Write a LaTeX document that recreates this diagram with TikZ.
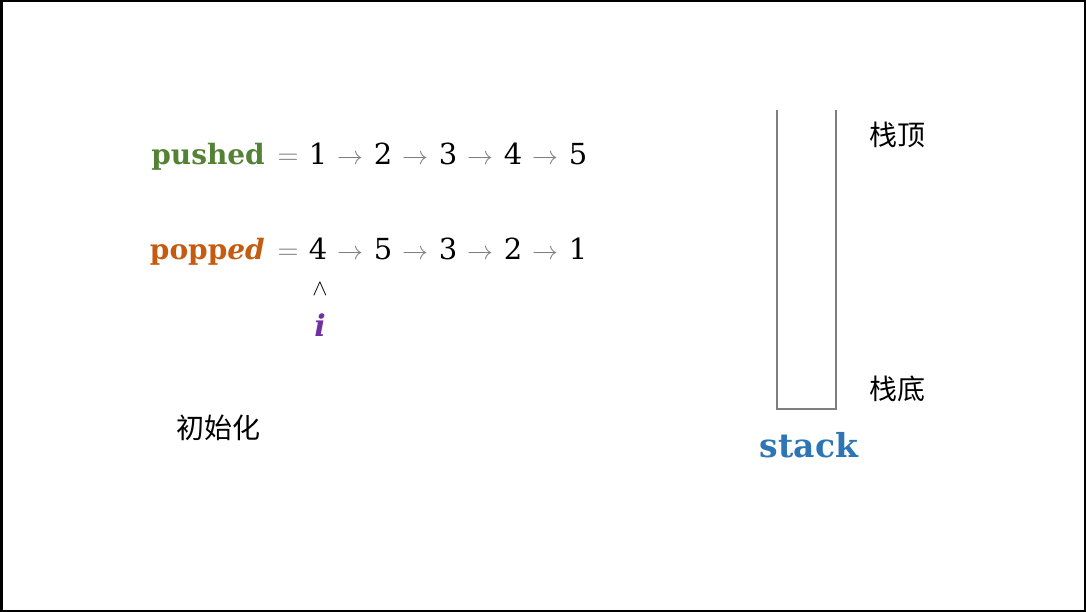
\documentclass[tikz,border=0pt]{standalone}
\usepackage{fontspec}
\setmainfont{DejaVu Serif}
\newfontfamily\cjk{Noto Sans CJK SC}
\definecolor{cgreen}{HTML}{548235}
\definecolor{corange}{HTML}{C55A11}
\definecolor{cpurple}{HTML}{7030A0}
\definecolor{cblue}{HTML}{2E75B6}
\definecolor{cgray}{HTML}{7F7F7F}
\newcommand{\myeq}{\scalebox{1.4}{$=$}}
\newcommand{\myarr}{\scalebox{1.25}{$\rightarrow$}}
\tikzset{
  lbl/.style={inner sep=0pt, font=\fontsize{28}{30}\selectfont\bfseries},
  num/.style={inner sep=0pt, font=\fontsize{29}{30}\selectfont},
  arr/.style={inner sep=0pt, text=cgray, font=\fontsize{20}{22}\selectfont},
  cjkt/.style={inner sep=0pt, font=\cjk\fontsize{28}{30}\selectfont},
  wall/.style={draw=cgray, line width=2pt},
}
\begin{document}
\begin{tikzpicture}[x=1pt,y=-1pt]
\useasboundingbox (0,0) rectangle (1086,612);
\draw[line width=2.5pt] (1.25,1.25) rectangle (1084.75,610.75);
% row 1
\node[lbl, text=cgreen, anchor=base east] (pushed) at (265,165) {pushed};
\node[arr, anchor=base] (eq1) at (288,165) {\myeq};
\foreach \v/\x [count=\k] in {1/318,2/383,3/448,4/513,5/578} {
  \node[num, anchor=base] (p\k) at (\x,165) {\v};
}
\foreach \x [count=\k] in {350,415,480,545} {
  \node[arr, anchor=base] (pa\k) at (\x,165) {\myarr};
}
% row 2
\node[lbl, text=corange, anchor=base east] (popped) at (265,259) {popp\textit{ed}};
\node[arr, anchor=base] (eq2) at (288,259) {\myeq};
\foreach \v/\x [count=\k] in {4/318,5/383,3/448,2/513,1/578} {
  \node[num, anchor=base] (q\k) at (\x,259) {\v};
}
\foreach \x [count=\k] in {350,415,480,545} {
  \node[arr, anchor=base] (qa\k) at (\x,259) {\myarr};
}
\node[inner sep=0pt, font=\fontsize{20}{22}\selectfont] (caret) at (320,289) {\scalebox{1.1}{$\wedge$}};
\node[inner sep=0pt, font=\fontsize{30}{30}\selectfont\bfseries, text=cpurple, anchor=base] (i) at (320,336) {\textit{i}};
% caption
\node[cjkt] (init) at (218,428) {初始化};
% stack
\coordinate (tl) at (777,110);
\coordinate (bl) at (777,409);
\coordinate (br) at (836,409);
\coordinate (tr) at (836,110);
\draw[wall] (tl) -- (bl) -- (br) -- (tr);
\node[cjkt] (top) at (897,135) {栈顶};
\node[cjkt] (bottom) at (897,389) {栈底};
\node[inner sep=0pt, font=\fontsize{33}{34}\selectfont\bfseries, text=cblue, anchor=base] (stack) at (809,457) {stack};
\end{tikzpicture}
\end{document}
